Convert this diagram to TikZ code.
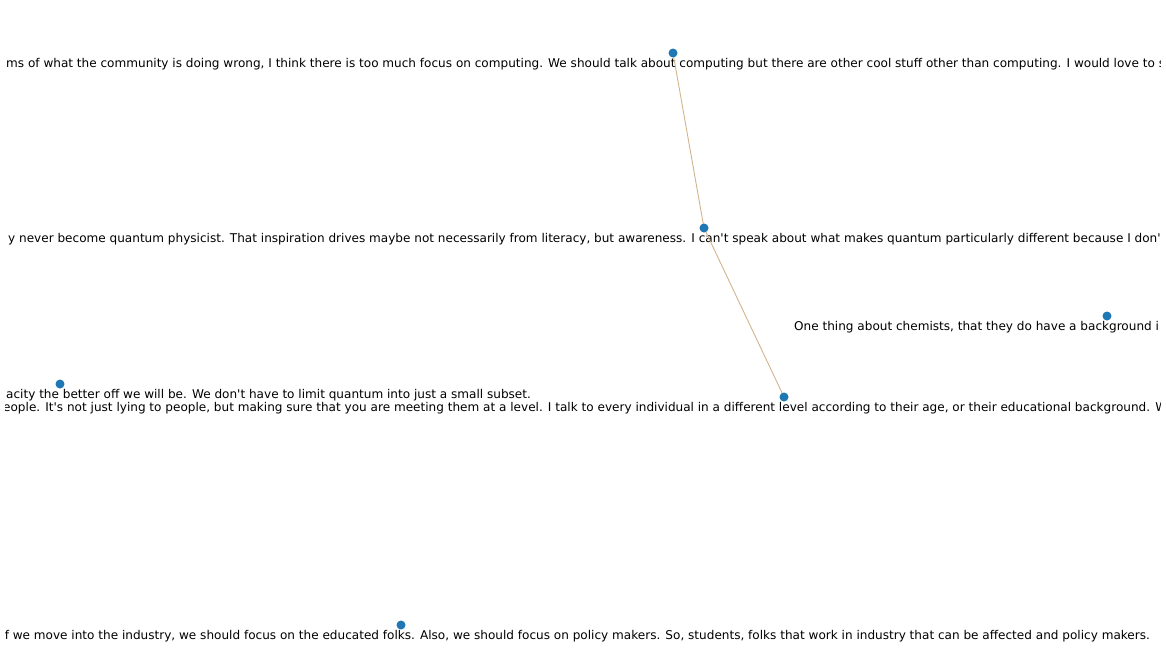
\documentclass[tikz,border=0pt]{standalone}
\usepackage{fontspec}
\setmainfont{DejaVu Sans}[Ligatures=TeXOff]
\usepackage{xcolor}
\usetikzlibrary{positioning}
\definecolor{nxblue}{HTML}{1F77B4}
\definecolor{nxtan}{HTML}{D2B48C}
\tikzset{
 dot/.style={circle,fill=nxblue,draw=none,minimum size=9pt,inner sep=0pt},
 quote/.style={anchor=base west,inner sep=0pt,font=\fontsize{12.06}{14}\selectfont},
 link/.style={draw=nxtan,line width=0.9pt}
}

\begin{document}
\begin{tikzpicture}[x=1pt,y=-1pt]
 \useasboundingbox (0,0) rectangle (1166,662);
 % labels run past the frame, so they are cut at its sides
 \begin{scope}
  \clip (5.5,0) rectangle (1160,662);
  \node[quote] (tcomm) at (6,67.5) {ms of what the community is doing wrong, I think there is too much focus on computing. We should talk about computing but there are other cool stuff other than computing. I would love to s};
  \node[quote] (tphys) at (8,242.5) {y never become quantum physicist. That inspiration drives maybe not necessarily from literacy, but awareness. I can't speak about what makes quantum particularly different because I don'};
  \node[quote] (tchem) at (794,330.5) {One thing about chemists, that they do have a background i};
  \node[quote] (tsub) at (6,398.5) {acity the better off we will be. We don't have to limit quantum into just a small subset.};
  \node[quote] (tlevel) at (3,411.5) {eople. It's not just lying to people, but making sure that you are meeting them at a level. I talk to every individual in a different level according to their age, or their educational background. W};
  \node[quote,anchor=base east] (tind) at (1150,639.5) {if we move into the industry, we should focus on the educated folks. Also, we should focus on policy makers. So, students, folks that work in industry that can be affected and policy makers.};
 \end{scope}
 % edges first, dots on top
 \coordinate (pcomm) at (673,53);
 \coordinate (pphys) at (704,228);
 \coordinate (plevel) at (784,397);
 \draw[link] (pcomm)--(pphys);
 \draw[link] (pphys)--(plevel);
 \node[dot] (comm) at (pcomm) {};
 \node[dot] (phys) at (pphys) {};
 \node[dot] (level) at (plevel) {};
 \node[dot] (chem) at (1107,316) {};
 \node[dot] (sub) at (60,384) {};
 \node[dot] (ind) at (401,625) {};
\end{tikzpicture}
\end{document}
